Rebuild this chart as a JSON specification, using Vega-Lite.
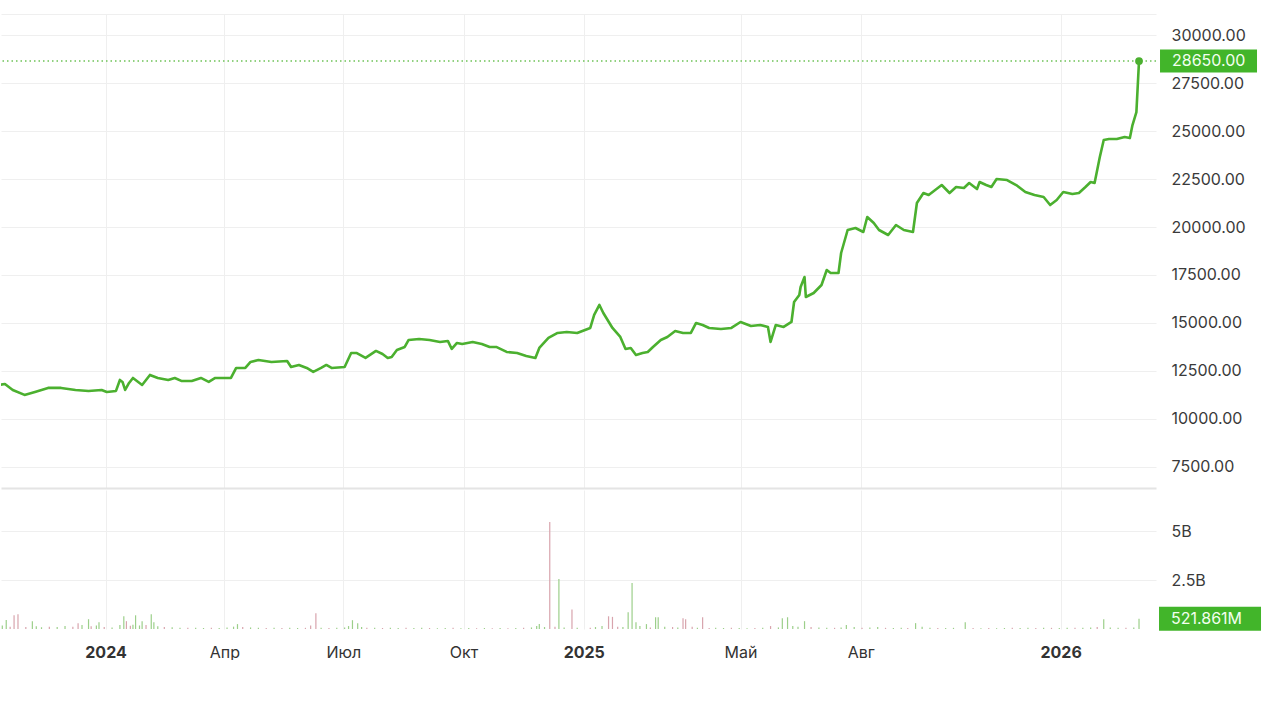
{
  "$schema": "https://vega.github.io/schema/vega-lite/v6.json",
  "padding": {"left": 0, "top": 14, "right": 0, "bottom": 0},
  "autosize": {"type": "pad"},
  "background": "#ffffff",
  "config": {
    "view": {"stroke": null},
    "concat": {"spacing": 2},
    "axis": {"labelFont": "Inter", "labelColor": "#3a3a3a", "labelFontSize": 16, "gridColor": "#efefef", "gridWidth": 1, "domain": false, "ticks": false, "title": null}
  },
  "datasets": {
    "price": [
      {"d":"2023-10-12","p":11771},{"d":"2023-10-16","p":11823},{"d":"2023-10-22","p":11510},{"d":"2023-10-31","p":11250},
      {"d":"2023-11-08","p":11406},{"d":"2023-11-18","p":11615},{"d":"2023-11-28","p":11615},{"d":"2023-12-09","p":11510},
      {"d":"2023-12-19","p":11458},{"d":"2023-12-29","p":11510},{"d":"2024-01-02","p":11406},{"d":"2024-01-09","p":11458},
      {"d":"2024-01-12","p":12031},{"d":"2024-01-14","p":11927},{"d":"2024-01-16","p":11510},{"d":"2024-01-19","p":11875},
      {"d":"2024-01-22","p":12135},{"d":"2024-01-24","p":12031},{"d":"2024-01-29","p":11771},{"d":"2024-02-04","p":12292},
      {"d":"2024-02-10","p":12135},{"d":"2024-02-18","p":12031},{"d":"2024-02-23","p":12135},{"d":"2024-02-28","p":11979},
      {"d":"2024-03-07","p":11979},{"d":"2024-03-14","p":12135},{"d":"2024-03-20","p":11927},{"d":"2024-03-25","p":12135},
      {"d":"2024-04-06","p":12135},{"d":"2024-04-10","p":12656},{"d":"2024-04-17","p":12656},{"d":"2024-04-21","p":12969},
      {"d":"2024-04-27","p":13073},{"d":"2024-05-07","p":12969},{"d":"2024-05-19","p":13021},{"d":"2024-05-22","p":12708},
      {"d":"2024-05-28","p":12812},{"d":"2024-06-03","p":12656},{"d":"2024-06-08","p":12448},{"d":"2024-06-14","p":12656},
      {"d":"2024-06-18","p":12812},{"d":"2024-06-22","p":12656},{"d":"2024-07-02","p":12708},{"d":"2024-07-07","p":13437},
      {"d":"2024-07-11","p":13437},{"d":"2024-07-18","p":13177},{"d":"2024-07-26","p":13542},{"d":"2024-07-31","p":13385},
      {"d":"2024-08-04","p":13177},{"d":"2024-08-07","p":13229},{"d":"2024-08-11","p":13594},{"d":"2024-08-17","p":13750},
      {"d":"2024-08-20","p":14115},{"d":"2024-08-28","p":14167},{"d":"2024-09-05","p":14115},{"d":"2024-09-13","p":14010},
      {"d":"2024-09-19","p":14063},{"d":"2024-09-22","p":13646},{"d":"2024-09-26","p":13958},{"d":"2024-09-30","p":13906},
      {"d":"2024-10-08","p":14010},{"d":"2024-10-15","p":13906},{"d":"2024-10-21","p":13750},{"d":"2024-10-26","p":13750},
      {"d":"2024-11-03","p":13490},{"d":"2024-11-11","p":13437},{"d":"2024-11-18","p":13281},{"d":"2024-11-25","p":13177},
      {"d":"2024-11-28","p":13698},{"d":"2024-12-05","p":14219},{"d":"2024-12-12","p":14479},{"d":"2024-12-19","p":14531},
      {"d":"2024-12-27","p":14479},{"d":"2025-01-02","p":14635},{"d":"2025-01-06","p":14740},{"d":"2025-01-09","p":15417},
      {"d":"2025-01-13","p":15938},{"d":"2025-01-16","p":15521},{"d":"2025-01-23","p":14740},{"d":"2025-01-29","p":14271},
      {"d":"2025-02-02","p":13646},{"d":"2025-02-06","p":13698},{"d":"2025-02-10","p":13333},{"d":"2025-02-15","p":13437},
      {"d":"2025-02-19","p":13490},{"d":"2025-02-23","p":13750},{"d":"2025-03-01","p":14115},{"d":"2025-03-06","p":14271},
      {"d":"2025-03-12","p":14583},{"d":"2025-03-18","p":14479},{"d":"2025-03-24","p":14479},{"d":"2025-03-28","p":15000},
      {"d":"2025-04-02","p":14896},{"d":"2025-04-07","p":14740},{"d":"2025-04-16","p":14688},{"d":"2025-04-24","p":14740},
      {"d":"2025-05-01","p":15052},{"d":"2025-05-09","p":14844},{"d":"2025-05-16","p":14896},{"d":"2025-05-22","p":14792},
      {"d":"2025-05-24","p":14010},{"d":"2025-05-28","p":14896},{"d":"2025-06-03","p":14792},{"d":"2025-06-09","p":15052},
      {"d":"2025-06-11","p":16094},{"d":"2025-06-15","p":16458},{"d":"2025-06-16","p":16875},{"d":"2025-06-19","p":17396},
      {"d":"2025-06-20","p":16354},{"d":"2025-06-26","p":16563},{"d":"2025-07-02","p":16979},{"d":"2025-07-06","p":17760},
      {"d":"2025-07-09","p":17604},{"d":"2025-07-15","p":17604},{"d":"2025-07-17","p":18646},{"d":"2025-07-22","p":19844},
      {"d":"2025-07-28","p":19948},{"d":"2025-08-03","p":19740},{"d":"2025-08-06","p":20521},{"d":"2025-08-11","p":20208},
      {"d":"2025-08-15","p":19844},{"d":"2025-08-22","p":19583},{"d":"2025-08-28","p":20104},{"d":"2025-09-03","p":19844},
      {"d":"2025-09-10","p":19740},{"d":"2025-09-13","p":21250},{"d":"2025-09-18","p":21771},{"d":"2025-09-22","p":21667},
      {"d":"2025-09-27","p":21927},{"d":"2025-10-02","p":22188},{"d":"2025-10-08","p":21771},{"d":"2025-10-13","p":22083},
      {"d":"2025-10-19","p":22031},{"d":"2025-10-23","p":22292},{"d":"2025-10-29","p":21979},{"d":"2025-10-31","p":22344},
      {"d":"2025-11-05","p":22188},{"d":"2025-11-09","p":22083},{"d":"2025-11-13","p":22500},{"d":"2025-11-21","p":22448},
      {"d":"2025-11-28","p":22188},{"d":"2025-12-05","p":21823},{"d":"2025-12-12","p":21667},{"d":"2025-12-19","p":21563},
      {"d":"2025-12-24","p":21146},{"d":"2025-12-29","p":21406},{"d":"2026-01-03","p":21823},{"d":"2026-01-10","p":21719},
      {"d":"2026-01-15","p":21771},{"d":"2026-01-20","p":22083},{"d":"2026-01-24","p":22344},{"d":"2026-01-27","p":22292},
      {"d":"2026-01-31","p":23646},{"d":"2026-02-03","p":24531},{"d":"2026-02-07","p":24583},{"d":"2026-02-13","p":24583},
      {"d":"2026-02-19","p":24688},{"d":"2026-02-23","p":24635},{"d":"2026-02-25","p":25313},{"d":"2026-02-28","p":25990},
      {"d":"2026-03-02","p":28650}
    ],
    "lastPrice": [{"d":"2026-03-02","p":28650}],
    "lastVol": [{"d":"2026-03-02","v":0.521861,"t":"521.861M"}],
    "vol": [
      {"d":"2023-10-14","v":0.18,"c":"u"},{"d":"2023-10-17","v":0.46,"c":"u"},{"d":"2023-10-20","v":0.12,"c":"d"},{"d":"2023-10-23","v":0.7,"c":"d"},
      {"d":"2023-10-26","v":0.75,"c":"d"},{"d":"2023-11-01","v":0.1,"c":"d"},{"d":"2023-11-06","v":0.4,"c":"u"},{"d":"2023-11-09","v":0.14,"c":"u"},
      {"d":"2023-11-13","v":0.09,"c":"u"},{"d":"2023-11-19","v":0.12,"c":"d"},{"d":"2023-11-25","v":0.1,"c":"u"},{"d":"2023-12-01","v":0.15,"c":"u"},
      {"d":"2023-12-07","v":0.12,"c":"d"},{"d":"2023-12-11","v":0.3,"c":"d"},{"d":"2023-12-14","v":0.2,"c":"u"},{"d":"2023-12-19","v":0.5,"c":"u"},
      {"d":"2023-12-21","v":0.14,"c":"d"},{"d":"2023-12-25","v":0.18,"c":"u"},{"d":"2023-12-27","v":0.35,"c":"u"},{"d":"2023-12-31","v":0.1,"c":"d"},
      {"d":"2024-01-06","v":0.08,"c":"u"},{"d":"2024-01-12","v":0.2,"c":"u"},{"d":"2024-01-15","v":0.65,"c":"u"},{"d":"2024-01-17","v":0.4,"c":"d"},
      {"d":"2024-01-20","v":0.16,"c":"d"},{"d":"2024-01-22","v":0.22,"c":"u"},{"d":"2024-01-24","v":0.7,"c":"u"},{"d":"2024-01-27","v":0.18,"c":"u"},
      {"d":"2024-01-29","v":0.4,"c":"u"},{"d":"2024-02-01","v":0.2,"c":"d"},{"d":"2024-02-05","v":0.75,"c":"u"},{"d":"2024-02-07","v":0.35,"c":"u"},
      {"d":"2024-02-10","v":0.14,"c":"u"},{"d":"2024-02-15","v":0.1,"c":"d"},{"d":"2024-02-21","v":0.09,"c":"u"},{"d":"2024-02-27","v":0.07,"c":"u"},
      {"d":"2024-03-04","v":0.06,"c":"d"},{"d":"2024-03-10","v":0.07,"c":"u"},{"d":"2024-03-16","v":0.05,"c":"u"},{"d":"2024-03-22","v":0.06,"c":"d"},
      {"d":"2024-03-28","v":0.05,"c":"u"},{"d":"2024-04-03","v":0.08,"c":"u"},{"d":"2024-04-08","v":0.12,"c":"u"},{"d":"2024-04-11","v":0.25,"c":"u"},
      {"d":"2024-04-15","v":0.1,"c":"d"},{"d":"2024-04-21","v":0.08,"c":"u"},{"d":"2024-04-27","v":0.06,"c":"u"},{"d":"2024-05-03","v":0.05,"c":"d"},
      {"d":"2024-05-09","v":0.06,"c":"u"},{"d":"2024-05-15","v":0.05,"c":"d"},{"d":"2024-05-21","v":0.07,"c":"u"},{"d":"2024-05-27","v":0.05,"c":"u"},
      {"d":"2024-06-02","v":0.06,"c":"d"},{"d":"2024-06-06","v":0.18,"c":"d"},{"d":"2024-06-10","v":0.8,"c":"d"},{"d":"2024-06-14","v":0.07,"c":"u"},
      {"d":"2024-06-20","v":0.05,"c":"d"},{"d":"2024-06-26","v":0.06,"c":"u"},{"d":"2024-07-02","v":0.08,"c":"u"},{"d":"2024-07-05","v":0.15,"c":"u"},
      {"d":"2024-07-08","v":0.45,"c":"u"},{"d":"2024-07-12","v":0.3,"c":"u"},{"d":"2024-07-15","v":0.1,"c":"u"},{"d":"2024-07-19","v":0.07,"c":"d"},
      {"d":"2024-07-25","v":0.06,"c":"u"},{"d":"2024-07-31","v":0.05,"c":"d"},{"d":"2024-08-06","v":0.06,"c":"u"},{"d":"2024-08-12","v":0.05,"c":"u"},
      {"d":"2024-08-18","v":0.07,"c":"d"},{"d":"2024-08-24","v":0.05,"c":"u"},{"d":"2024-08-30","v":0.06,"c":"u"},{"d":"2024-09-05","v":0.05,"c":"d"},
      {"d":"2024-09-11","v":0.04,"c":"u"},{"d":"2024-09-17","v":0.05,"c":"u"},{"d":"2024-09-23","v":0.06,"c":"d"},{"d":"2024-09-29","v":0.04,"c":"u"},
      {"d":"2024-10-05","v":0.05,"c":"u"},{"d":"2024-10-11","v":0.04,"c":"d"},{"d":"2024-10-17","v":0.05,"c":"u"},{"d":"2024-10-23","v":0.04,"c":"d"},
      {"d":"2024-10-29","v":0.05,"c":"u"},{"d":"2024-11-04","v":0.04,"c":"d"},{"d":"2024-11-10","v":0.05,"c":"u"},{"d":"2024-11-16","v":0.06,"c":"d"},
      {"d":"2024-11-22","v":0.08,"c":"u"},{"d":"2024-11-26","v":0.15,"c":"u"},{"d":"2024-11-28","v":0.25,"c":"u"},{"d":"2024-12-02","v":0.1,"c":"u"},
      {"d":"2024-12-06","v":5.46,"c":"d"},{"d":"2024-12-10","v":0.12,"c":"d"},{"d":"2024-12-13","v":2.55,"c":"u"},{"d":"2024-12-17","v":0.08,"c":"u"},
      {"d":"2024-12-23","v":1.0,"c":"d"},{"d":"2024-12-27","v":0.06,"c":"u"},{"d":"2025-01-06","v":0.07,"c":"d"},{"d":"2025-01-10","v":0.1,"c":"u"},
      {"d":"2025-01-15","v":0.15,"c":"u"},{"d":"2025-01-20","v":0.65,"c":"d"},{"d":"2025-01-23","v":0.62,"c":"d"},{"d":"2025-01-27","v":0.12,"c":"d"},
      {"d":"2025-01-31","v":0.1,"c":"u"},{"d":"2025-02-04","v":0.85,"c":"u"},{"d":"2025-02-07","v":2.35,"c":"u"},{"d":"2025-02-10","v":0.35,"c":"u"},
      {"d":"2025-02-13","v":0.15,"c":"u"},{"d":"2025-02-18","v":0.25,"c":"u"},{"d":"2025-02-21","v":0.08,"c":"d"},{"d":"2025-02-25","v":0.6,"c":"u"},
      {"d":"2025-02-27","v":0.6,"c":"u"},{"d":"2025-03-04","v":0.12,"c":"u"},{"d":"2025-03-10","v":0.1,"c":"d"},{"d":"2025-03-14","v":0.08,"c":"u"},
      {"d":"2025-03-18","v":0.55,"c":"d"},{"d":"2025-03-20","v":0.5,"c":"d"},{"d":"2025-03-25","v":0.12,"c":"d"},{"d":"2025-03-29","v":0.07,"c":"u"},
      {"d":"2025-04-02","v":0.6,"c":"d"},{"d":"2025-04-07","v":0.05,"c":"d"},{"d":"2025-04-12","v":0.06,"c":"u"},{"d":"2025-04-18","v":0.05,"c":"u"},
      {"d":"2025-04-24","v":0.06,"c":"d"},{"d":"2025-04-30","v":0.05,"c":"u"},{"d":"2025-05-06","v":0.04,"c":"u"},{"d":"2025-05-12","v":0.05,"c":"d"},
      {"d":"2025-05-18","v":0.06,"c":"u"},{"d":"2025-05-24","v":0.15,"c":"d"},{"d":"2025-05-30","v":0.08,"c":"u"},{"d":"2025-06-02","v":0.55,"c":"u"},
      {"d":"2025-06-06","v":0.6,"c":"u"},{"d":"2025-06-10","v":0.15,"c":"u"},{"d":"2025-06-14","v":0.12,"c":"u"},{"d":"2025-06-19","v":0.4,"c":"u"},
      {"d":"2025-06-24","v":0.1,"c":"d"},{"d":"2025-06-30","v":0.08,"c":"u"},{"d":"2025-07-06","v":0.07,"c":"u"},{"d":"2025-07-12","v":0.06,"c":"d"},
      {"d":"2025-07-17","v":0.08,"c":"u"},{"d":"2025-07-21","v":0.2,"c":"u"},{"d":"2025-07-27","v":0.1,"c":"u"},{"d":"2025-08-02","v":0.06,"c":"d"},
      {"d":"2025-08-08","v":0.08,"c":"u"},{"d":"2025-08-14","v":0.1,"c":"u"},{"d":"2025-08-20","v":0.06,"c":"d"},{"d":"2025-08-26","v":0.05,"c":"u"},
      {"d":"2025-09-01","v":0.06,"c":"u"},{"d":"2025-09-06","v":0.05,"c":"d"},{"d":"2025-09-12","v":0.3,"c":"u"},{"d":"2025-09-17","v":0.12,"c":"u"},
      {"d":"2025-09-23","v":0.06,"c":"u"},{"d":"2025-09-29","v":0.05,"c":"d"},{"d":"2025-10-05","v":0.05,"c":"u"},{"d":"2025-10-11","v":0.06,"c":"u"},
      {"d":"2025-10-20","v":0.35,"c":"u"},{"d":"2025-10-26","v":0.05,"c":"d"},{"d":"2025-11-01","v":0.04,"c":"u"},{"d":"2025-11-07","v":0.05,"c":"d"},
      {"d":"2025-11-13","v":0.04,"c":"u"},{"d":"2025-11-19","v":0.05,"c":"u"},{"d":"2025-11-25","v":0.06,"c":"d"},{"d":"2025-12-01","v":0.05,"c":"u"},
      {"d":"2025-12-07","v":0.06,"c":"u"},{"d":"2025-12-13","v":0.05,"c":"d"},{"d":"2025-12-19","v":0.07,"c":"u"},{"d":"2025-12-25","v":0.06,"c":"d"},
      {"d":"2025-12-31","v":0.05,"c":"u"},{"d":"2026-01-06","v":0.06,"c":"u"},{"d":"2026-01-12","v":0.07,"c":"d"},{"d":"2026-01-18","v":0.06,"c":"u"},
      {"d":"2026-01-24","v":0.08,"c":"u"},{"d":"2026-01-29","v":0.1,"c":"d"},{"d":"2026-02-03","v":0.5,"c":"u"},{"d":"2026-02-08","v":0.08,"c":"u"},
      {"d":"2026-02-14","v":0.06,"c":"u"},{"d":"2026-02-20","v":0.07,"c":"d"},{"d":"2026-02-26","v":0.08,"c":"u"},{"d":"2026-03-02","v":0.521861,"c":"u"}
    ]
  },
  "vconcat": [
    {
      "width": 1155,
      "height": 474,
      "encoding": {
        "x": {
          "field": "d", "type": "temporal",
          "scale": {"type": "utc", "domain": ["2023-10-13", "2026-03-15"]},
          "axis": {
            "labels": false, "grid": true, "domain": true, "domainColor": "#e4e4e4", "domainWidth": 2,
            "values": [
              {"year": 2024, "month": 1, "date": 1, "utc": true},
              {"year": 2024, "month": 4, "date": 1, "utc": true},
              {"year": 2024, "month": 7, "date": 1, "utc": true},
              {"year": 2024, "month": 10, "date": 1, "utc": true},
              {"year": 2025, "month": 1, "date": 1, "utc": true},
              {"year": 2025, "month": 5, "date": 1, "utc": true},
              {"year": 2025, "month": 8, "date": 1, "utc": true},
              {"year": 2026, "month": 1, "date": 1, "utc": true}
            ]
          }
        },
        "y": {
          "field": "p", "type": "quantitative",
          "scale": {"domain": [6400, 31100], "nice": false, "zero": false},
          "axis": {
            "orient": "right", "grid": true, "labelPadding": 15,
            "values": [7500, 10000, 12500, 15000, 17500, 20000, 22500, 25000, 27500, 30000, 31100],
            "labelExpr": "datum.value > 30000 ? '' : format(datum.value, '.2f')"
          }
        }
      },
      "layer": [
        {
          "data": {"name": "lastPrice"},
          "mark": {"type": "rule", "color": "#6dc257", "strokeDash": [1.5, 3], "strokeWidth": 1.4},
          "encoding": {"x": null}
        },
        {
          "data": {"name": "price"},
          "mark": {"type": "line", "color": "#4bb02f", "strokeWidth": 2.6, "clip": true, "strokeJoin": "round"}
        },
        {
          "data": {"name": "lastPrice"},
          "mark": {"type": "point", "filled": true, "color": "#4bb02f", "size": 60, "opacity": 1}
        },
        {
          "data": {"name": "lastPrice"},
          "mark": {"type": "point", "filled": true, "color": "#42b52a", "size": 400, "opacity": 1, "strokeWidth": 0, "shape": "M2.1,-1.15H11.8V1.15H2.1Z"}
        },
        {
          "data": {"name": "lastPrice"},
          "mark": {"type": "text", "align": "left", "baseline": "middle", "dx": 33, "font": "Inter", "fontSize": 16, "color": "#f2fff0"},
          "encoding": {"text": {"field": "p", "type": "quantitative", "format": ".2f"}}
        }
      ]
    },
    {
      "width": 1155,
      "height": 139,
      "encoding": {
        "x": {
          "field": "d", "type": "temporal",
          "scale": {"type": "utc", "domain": ["2023-10-13", "2026-03-15"]},
          "axis": {
            "grid": true, "labelPadding": 15, "labelFontSize": 16, "labelColor": "#333333",
            "labelFontWeight": {"condition": {"test": "utcmonth(datum.value) == 0", "value": "bold"}, "value": "normal"},
            "labelExpr": "utcmonth(datum.value) == 0 ? '' + utcyear(datum.value) : ['Янв','Фев','Мар','Апр','Май','Июн','Июл','Авг','Сен','Окт','Ноя','Дек'][utcmonth(datum.value)]",
            "values": [
              {"year": 2024, "month": 1, "date": 1, "utc": true},
              {"year": 2024, "month": 4, "date": 1, "utc": true},
              {"year": 2024, "month": 7, "date": 1, "utc": true},
              {"year": 2024, "month": 10, "date": 1, "utc": true},
              {"year": 2025, "month": 1, "date": 1, "utc": true},
              {"year": 2025, "month": 5, "date": 1, "utc": true},
              {"year": 2025, "month": 8, "date": 1, "utc": true},
              {"year": 2026, "month": 1, "date": 1, "utc": true}
            ]
          }
        },
        "y": {
          "field": "v", "type": "quantitative",
          "scale": {"domain": [0, 7.1], "nice": false},
          "axis": {
            "orient": "right", "grid": true, "labelPadding": 15,
            "values": [2.5, 5],
            "labelExpr": "datum.value + 'B'"
          }
        }
      },
      "layer": [
        {
          "data": {"name": "vol"},
          "mark": {"type": "rule", "strokeWidth": 1.2, "clip": true},
          "encoding": {
            "y2": {"datum": 0},
            "color": {"field": "c", "type": "nominal", "scale": {"domain": ["u", "d"], "range": ["#9ccf8a", "#d8a4ad"]}, "legend": null}
          }
        },
        {
          "data": {"name": "lastVol"},
          "mark": {"type": "point", "filled": true, "color": "#42b52a", "size": 400, "opacity": 1, "strokeWidth": 0, "shape": "M2.0,-1.2H12.2V1.2H2.0Z"}
        },
        {
          "data": {"name": "lastVol"},
          "mark": {"type": "text", "align": "left", "baseline": "middle", "dx": 32, "font": "Inter", "fontSize": 16, "color": "#f2fff0"},
          "encoding": {"text": {"field": "t", "type": "nominal"}}
        }
      ]
    }
  ]
}
